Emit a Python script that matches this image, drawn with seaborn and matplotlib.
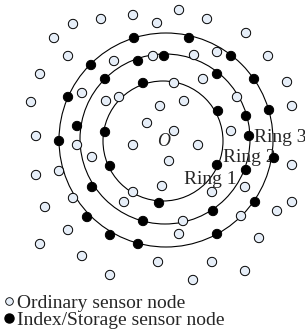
import pandas as pd
import matplotlib
matplotlib.use('Agg')
import matplotlib.pyplot as plt
from matplotlib.lines import Line2D
import seaborn as sns

# ordinary sensor nodes (light circles), picture coordinates
ordinary_x = [133, 101, 73, 54, 68, 114, 40, 82, 31, 106, 119, 147, 179, 157, 207, 153,
              194, 217, 246, 268, 203, 174, 287, 237, 160, 184, 292, 174, 231,
              36, 77, 92, 133, 59, 36, 133, 73, 124, 45, 68, 40, 82,
              198, 169, 162, 183, 179, 292, 212, 245, 292, 277, 241, 259,
              110, 158, 193, 212, 245]
ordinary_y = [15, 19, 24, 38, 56, 61, 74, 93, 102, 101, 97, 123, 10, 23, 19, 56,
              55, 52, 33, 56, 79, 83, 82, 97, 106, 101, 106, 131, 131,
              136, 145, 157, 145, 171, 175, 192, 198, 202, 207, 230, 244, 256,
              145, 161, 186, 221, 234, 165, 192, 187, 202, 211, 216, 238,
              275, 262, 280, 262, 271]

# index/storage sensor nodes (black dots) sitting on the rings
index_x = [134, 189, 91, 231, 68, 254, 269, 274, 255, 217, 138, 110, 87, 59,
           105, 138, 164, 217, 246, 249, 246, 213, 143, 92, 77,
           143, 218, 217, 159, 110, 105]
index_y = [38, 38, 65, 56, 97, 79, 110, 158, 202, 234, 244, 235, 217, 141,
           79, 61, 56, 74, 116, 136, 170, 211, 221, 187, 126,
           83, 111, 165, 203, 166, 132]

# rings
ring_cx = [163, 165, 166]
ring_cy = [141, 139, 140]
ring_r = [60, 85, 107]
ring_names = ['Ring 1', 'Ring 2', 'Ring 3']

sns.set_style('white')
plt.rcParams['font.family'] = ['Liberation Serif', 'DejaVu Serif']

df = pd.DataFrame({
    'x': ordinary_x + index_x,
    'y': ordinary_y + index_y,
    'kind': ['Ordinary'] * len(ordinary_x) + ['Index'] * len(index_x),
})

fig = plt.figure(figsize=(3.05, 3.33), dpi=100)
ax = fig.add_axes([0, 0, 1, 1])

for cx, cy, r in zip(ring_cx, ring_cy, ring_r):
    ax.add_patch(plt.Circle((cx, cy), r, fill=False, edgecolor='black', linewidth=0.8, zorder=1))

# labels go under the dots, like in the picture
ax.text(164, 142, 'O', fontsize=13, fontstyle='italic', ha='center', va='center', zorder=2)
ax.text(184, 180, ring_names[0], fontsize=14, ha='left', va='center', zorder=2)
ax.text(223, 157, ring_names[1], fontsize=14, ha='left', va='center', zorder=2)
ax.text(254, 137, ring_names[2], fontsize=14, ha='left', va='center', zorder=2)

sns.scatterplot(data=df, x='x', y='y', hue='kind',
                palette={'Ordinary': '#e6eef8', 'Index': 'black'},
                edgecolor='black', linewidth=0.7, s=45, legend=False, zorder=3, ax=ax)

ax.set_xlim(0, 305)
ax.set_ylim(333, 0)
ax.axis('off')

handles = [
    Line2D([], [], marker='o', linestyle='', markerfacecolor='#e6eef8', markeredgecolor='black',
           markeredgewidth=0.6, markersize=5.5, label='Ordinary sensor node'),
    Line2D([], [], marker='o', linestyle='', markerfacecolor='black', markeredgecolor='black',
           markersize=6.5, label='Index/Storage sensor node'),
]
ax.legend(handles=handles, loc='lower left', bbox_to_anchor=(0.0, 0.0), frameon=False,
          fontsize=14, handlelength=0.5, handletextpad=0.15, labelspacing=0.0,
          borderpad=0.1, borderaxespad=0.1)

fig.savefig('out.png', dpi=100)
